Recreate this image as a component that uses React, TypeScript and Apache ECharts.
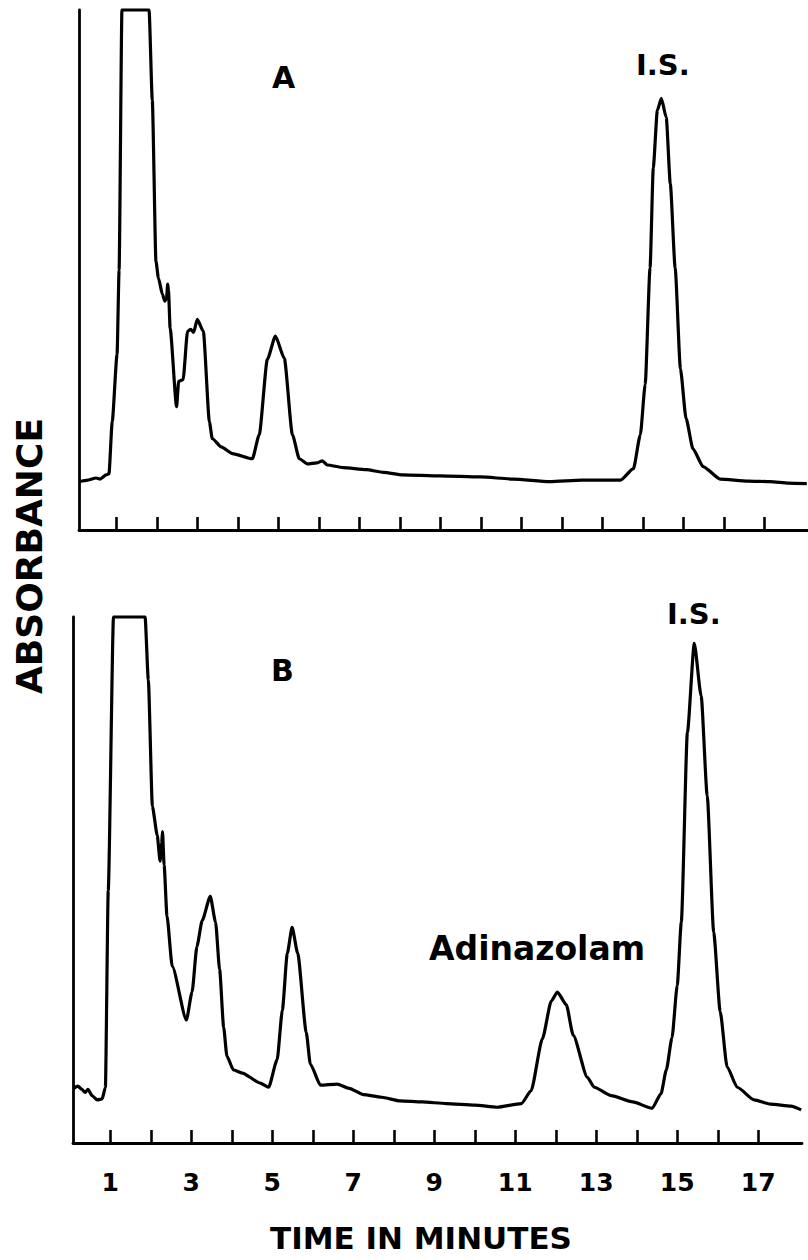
import React, { useEffect, useRef } from "react";
import * as echarts from "echarts";

// Chromatogram A (time in minutes, relative absorbance; 100 = off-scale / clipped)
const traceA: [number, number][] = [
  [0.08, 9.3], [0.3, 9.6], [0.5, 10.0], [0.6, 9.8], [0.75, 10.6], [0.82, 10.8],
  [0.9, 20.8], [1.02, 33.8], [1.07, 50], [1.14, 100], [1.81, 100], [1.89, 82.6],
  [1.98, 51.7], [2.04, 48.5], [2.14, 45.3], [2.2, 44], [2.24, 44.5], [2.27, 47.3],
  [2.29, 46], [2.33, 38.8], [2.49, 23.7], [2.54, 28.6], [2.65, 28.9], [2.76, 38.2],
  [2.84, 38.6], [2.91, 38], [3.0, 40.5], [3.15, 38.2], [3.3, 20.8], [3.37, 17.6],
  [3.59, 16], [3.87, 14.7], [4.36, 13.7], [4.53, 18.3], [4.73, 32.8], [4.93, 37.3],
  [5.15, 33], [5.35, 18.3], [5.52, 13.7], [5.72, 12.7], [5.95, 12.9], [6.09, 13.3],
  [6.21, 12.5], [6.6, 12.0], [7.17, 11.6], [7.6, 11.1], [8.07, 10.6], [9.0, 10.4],
  [9.99, 10.2], [10.8, 9.8], [11.7, 9.3], [12.5, 9.6], [13.45, 9.6], [13.77, 11.8],
  [13.94, 18.3], [14.06, 28], [14.18, 50.4], [14.26, 69.7], [14.36, 80.7], [14.46, 83],
  [14.58, 79.3], [14.68, 66.6], [14.8, 50.4], [14.93, 31], [15.07, 21.4], [15.24, 15.6],
  [15.49, 12.2], [15.91, 9.8], [16.6, 9.4], [17.15, 9.3], [17.6, 9.0], [18.05, 8.9],
];

// Chromatogram B
const traceB: [number, number][] = [
  [0.1, 10.4], [0.2, 10.8], [0.3, 10.2], [0.38, 9.6], [0.45, 10.2], [0.55, 9.0],
  [0.68, 8.2], [0.8, 8.4], [0.88, 10.6], [0.95, 48], [1.08, 100], [1.86, 100],
  [1.94, 88], [2.04, 64], [2.16, 58.5], [2.23, 53.6], [2.27, 57], [2.29, 59.2],
  [2.33, 52.8], [2.4, 43.2], [2.53, 33.6], [2.88, 23.4], [3.02, 28.7], [3.14, 37.4],
  [3.27, 42.3], [3.47, 46.9], [3.6, 42], [3.7, 33], [3.8, 22], [3.88, 16.5],
  [4.04, 13.9], [4.26, 13.3], [4.7, 11.4], [4.91, 10.6], [5.12, 15.8], [5.25, 25.3],
  [5.37, 36], [5.49, 41], [5.63, 36], [5.84, 21], [5.94, 15], [6.19, 11],
  [6.6, 11.2], [6.9, 10.4], [7.25, 9.2], [7.7, 8.7], [8.16, 8.0], [8.7, 7.8],
  [9.3, 7.5], [10.0, 7.2], [10.55, 6.8], [11.15, 7.5], [11.39, 9.9], [11.67, 19.8],
  [11.89, 27], [12.04, 28.7], [12.26, 26.3], [12.43, 20.5], [12.78, 12.5], [12.95, 10.6],
  [13.37, 9.0], [13.9, 7.8], [14.38, 6.6], [14.6, 9.4], [14.73, 13.9], [14.87, 20],
  [15.0, 30], [15.1, 42], [15.25, 78], [15.42, 95], [15.59, 85], [15.74, 66],
  [15.9, 40], [16.06, 25], [16.23, 14.5], [16.48, 10.6], [16.9, 8.2], [17.3, 7.4],
  [17.81, 7.0], [18.06, 6.3],
];

const tickValues = [1, 2, 3, 4, 5, 6, 7, 8, 9, 10, 11, 12, 13, 14, 15, 16, 17];
const labelValues = [1, 3, 5, 7, 9, 11, 13, 15, 17];

const X_MIN = 0.08;
const X_MAX = 18.08;
const FONT = "'DejaVu Sans', Verdana, sans-serif";

export default function App() {
  const ref = useRef<HTMLDivElement>(null);
  useEffect(() => {
    document.body.style.margin = "0";
    const chart = echarts.init(ref.current!, null, { renderer: "svg" });
    const axisLine = { show: true, lineStyle: { color: "#000", width: 2.8 } };
    const xAxisBase = (showLabels: boolean) => ({
      type: "value" as const,
      min: X_MIN,
      max: X_MAX,
      axisLine,
      splitLine: { show: false },
      axisTick: {
        show: true,
        inside: true,
        length: 13,
        lineStyle: { color: "#000", width: 2.6 },
        customValues: tickValues,
      },
      axisLabel: {
        show: showLabels,
        customValues: labelValues,
        color: "#000",
        fontFamily: FONT,
        fontWeight: "bold",
        fontSize: 25,
        margin: 27,
      },
    });
    const yAxisBase = {
      type: "value" as const,
      min: 0,
      max: 100,
      axisLine,
      axisTick: { show: false },
      axisLabel: { show: false },
      splitLine: { show: false },
    };
    const lineStyle = { color: "#000", width: 3.2 };
    chart.setOption({
      animation: false,
      backgroundColor: "#fff",
      grid: [
        { left: 79, top: 10, width: 729, height: 520 },
        { left: 73, top: 617, width: 729, height: 526 },
      ],
      xAxis: [
        { ...xAxisBase(false), gridIndex: 0 },
        { ...xAxisBase(true), gridIndex: 1 },
      ],
      yAxis: [
        { ...yAxisBase, gridIndex: 0 },
        { ...yAxisBase, gridIndex: 1 },
      ],
      series: [
        {
          type: "line",
          xAxisIndex: 0,
          yAxisIndex: 0,
          data: traceA,
          showSymbol: false,
          clip: false,
          smooth: 0.2,
          smoothMonotone: "x",
          lineStyle,
        },
        {
          type: "line",
          xAxisIndex: 1,
          yAxisIndex: 1,
          data: traceB,
          showSymbol: false,
          clip: false,
          smooth: 0.2,
          smoothMonotone: "x",
          lineStyle,
        },
      ],
      graphic: [
        { type: "text", left: 272, top: 62, style: { text: "A", font: `bold 30px ${FONT}`, fill: "#000" } },
        { type: "text", left: 636, top: 50, style: { text: "I.S.", font: `bold 29px ${FONT}`, fill: "#000" } },
        { type: "text", left: 271, top: 655, style: { text: "B", font: `bold 30px ${FONT}`, fill: "#000" } },
        { type: "text", left: 667, top: 599, style: { text: "I.S.", font: `bold 29px ${FONT}`, fill: "#000" } },
        { type: "text", left: 429, top: 932, style: { text: "Adinazolam", font: `bold 33px ${FONT}`, fill: "#000" } },
        {
          type: "text",
          left: 11,
          top: 418,
          rotation: Math.PI / 2,
          style: { text: "ABSORBANCE", font: `bold 36px ${FONT}`, fill: "#000" },
        },
        { type: "text", left: 270, top: 1222, style: { text: "TIME IN MINUTES", font: `bold 31px ${FONT}`, fill: "#000" } },
      ],
    });
    return () => chart.dispose();
  }, []);
  return (
    <div
      ref={ref}
      style={{ position: "absolute", left: 0, top: 0, width: 808, height: 1260 }}
    />
  );
}
